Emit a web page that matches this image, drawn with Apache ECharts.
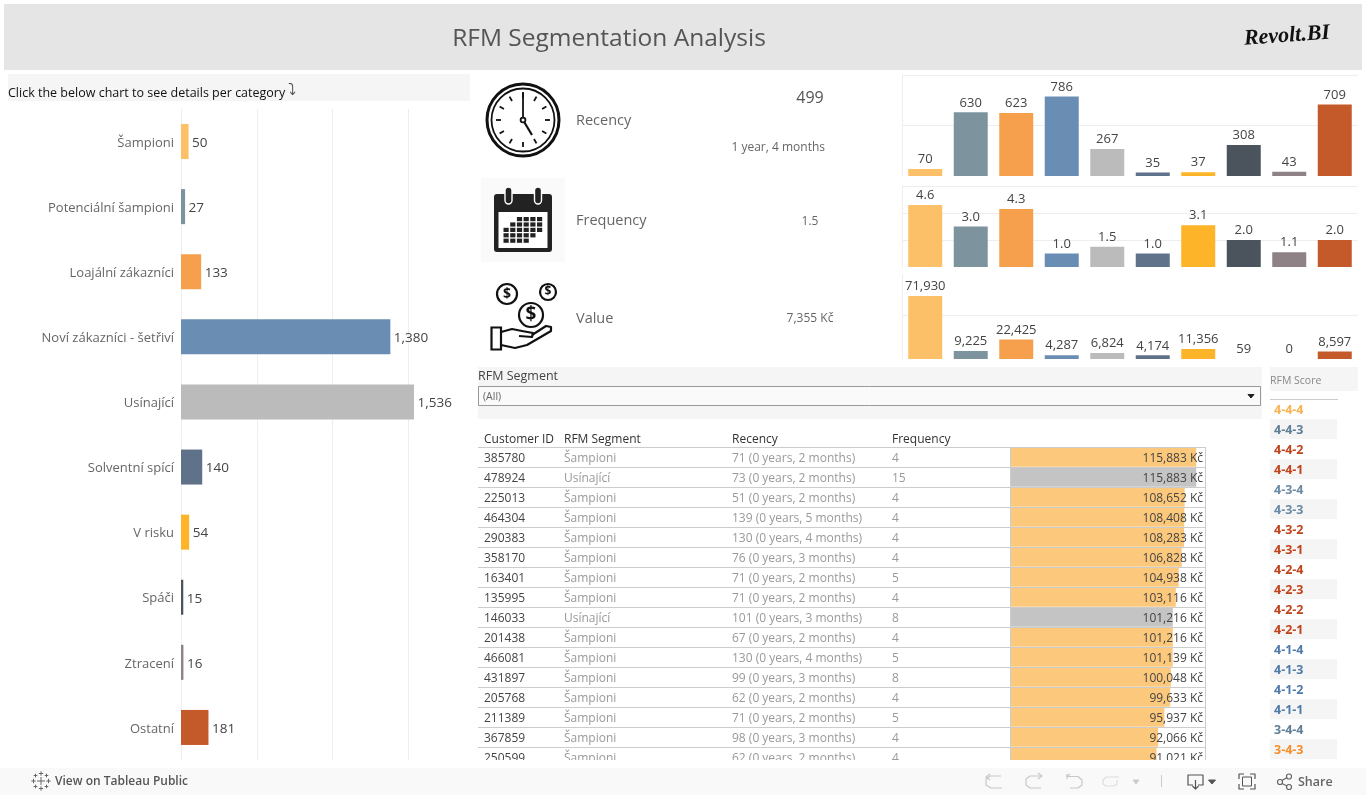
<!DOCTYPE html>
<html>
<head>
<meta charset="utf-8">
<title>RFM Segmentation Analysis</title>
<script src="https://cdn.jsdelivr.net/npm/echarts@6/dist/echarts.min.js"></script>
<style>
html, body { margin: 0; padding: 0; background: #fff; }
#main { width: 1366px; height: 795px; }
</style>
</head>
<body>
<div id="main"></div>
<script>
var FONT = '"Open Sans", "Noto Sans", sans-serif';

// segment summary
var segments = ['Šampioni', 'Potenciální šampioni', 'Loajální zákazníci', 'Noví zákazníci - šetřiví', 'Usínající', 'Solventní spící', 'V risku', 'Spáči', 'Ztracení', 'Ostatní'];
var customerCounts = [50, 27, 133, 1380, 1536, 140, 54, 15, 16, 181];
var recencyAvg = [70, 630, 623, 786, 267, 35, 37, 308, 43, 709];
var frequencyAvg = [4.6, 3.0, 4.3, 1.0, 1.5, 1.0, 3.1, 2.0, 1.1, 2.0];
var valueAvg = [71930, 9225, 22425, 4287, 6824, 4174, 11356, 59, 0, 8597];
var segmentColors = ['#fbc068', '#7d949f', '#f6a04e', '#6a8db3', '#bbbbbb', '#5f7289', '#fdb428', '#4b545c', '#8f8286', '#c4592a'];

// customer table
var customerIds = ['385780', '478924', '225013', '464304', '290383', '358170', '163401', '135995', '146033', '201438', '466081', '431897', '205768', '211389', '367859', '250599'];
var customerSegments = ['Šampioni', 'Usínající', 'Šampioni', 'Šampioni', 'Šampioni', 'Šampioni', 'Šampioni', 'Šampioni', 'Usínající', 'Šampioni', 'Šampioni', 'Šampioni', 'Šampioni', 'Šampioni', 'Šampioni', 'Šampioni'];
var customerRecency = ['71 (0 years, 2 months)', '73 (0 years, 2 months)', '51 (0 years, 2 months)', '139 (0 years, 5 months)', '130 (0 years, 4 months)', '76 (0 years, 3 months)', '71 (0 years, 2 months)', '71 (0 years, 2 months)', '101 (0 years, 3 months)', '67 (0 years, 2 months)', '130 (0 years, 4 months)', '99 (0 years, 3 months)', '62 (0 years, 2 months)', '71 (0 years, 2 months)', '98 (0 years, 3 months)', '62 (0 years, 2 months)'];
var customerFrequency = [4, 15, 4, 4, 4, 4, 5, 4, 8, 4, 5, 8, 4, 5, 4, 4];
var customerValue = [115883, 115883, 108652, 108408, 108283, 106828, 104938, 103116, 101216, 101216, 101139, 100048, 99633, 95937, 92066, 91021];

// rfm score list
var rfmScores = ['4-4-4', '4-4-3', '4-4-2', '4-4-1', '4-3-4', '4-3-3', '4-3-2', '4-3-1', '4-2-4', '4-2-3', '4-2-2', '4-2-1', '4-1-4', '4-1-3', '4-1-2', '4-1-1', '3-4-4', '3-4-3'];
var rfmScoreColors = ['#f9b24f', '#5f7f97', '#c0431a', '#c0431a', '#6a8aa5', '#6a8aa5', '#c0431a', '#c0431a', '#c0431a', '#c0431a', '#c0431a', '#c0431a', '#4f7bab', '#4f7bab', '#4f7bab', '#4f7bab', '#5f7f97', '#f58f2a'];

var fmt = function (v) { return v.toLocaleString('en-US'); };

var graphics = [];
function txt(text, x, y, size, fill, align, weight, family, z) {
    graphics.push({
        type: 'text', silent: true, z: z || 50,
        style: {
            text: text, x: x, y: y + 1, fill: fill,
            font: (weight || 'normal') + ' ' + size + 'px ' + (family || FONT),
            textAlign: align || 'left', textVerticalAlign: 'middle'
        }
    });
}
function box(x, y, w, h, fill, z, stroke, sw) {
    graphics.push({
        type: 'rect', silent: true, z: z || 0,
        shape: { x: x, y: y, width: w, height: h },
        style: { fill: fill || 'transparent', stroke: stroke || null, lineWidth: stroke ? (sw || 1) : 0 }
    });
}
function line(x1, y1, x2, y2, color, width, z) {
    graphics.push({
        type: 'line', silent: true, z: z || 40,
        shape: { x1: x1, y1: y1, x2: x2, y2: y2 },
        style: { stroke: color, lineWidth: width || 1 }
    });
}
function circle(cx, cy, r, fill, stroke, width, z) {
    graphics.push({
        type: 'circle', silent: true, z: z || 40,
        shape: { cx: cx, cy: cy, r: r },
        style: { fill: fill || 'transparent', stroke: stroke || null, lineWidth: width || 1 }
    });
}
function poly(points, color, width, fill, z) {
    graphics.push({
        type: fill ? 'polygon' : 'polyline', silent: true, z: z || 40,
        shape: { points: points },
        style: { stroke: color, lineWidth: width || 1, fill: fill || 'transparent', lineJoin: 'round' }
    });
}

// header
box(4, 4, 1358, 66, '#e5e5e5');
txt('RFM Segmentation Analysis', 609, 38, 24.5, '#555555', 'center');
graphics.push({
    type: 'text', silent: true, z: 50, x: 1287, y: 36, rotation: 0.07,
    style: { text: 'Revolt.BI', x: 0, y: 0, fill: '#111111', font: 'italic bold 22px "Liberation Serif", serif', textAlign: 'center', textVerticalAlign: 'middle' }
});

// left title
box(8, 74, 462, 27, '#f5f5f5');
txt('Click the below chart to see details per category', 8, 92, 12.5, '#111111');
txt('⤵', 292, 90, 16, '#444444', 'center', 'normal', '"DejaVu Sans", sans-serif');

// metrics
txt('Recency', 576, 120, 14.5, '#666666');
txt('499', 810, 97, 16, '#555555', 'center');
txt('1 year, 4 months', 825, 147, 12, '#666666', 'right');
txt('Frequency', 576, 220, 14.5, '#666666');
txt('1.5', 810, 221, 12, '#666666', 'center');
txt('Value', 576, 318, 14.5, '#666666');
txt('7,355 Kč', 810, 318, 12, '#666666', 'center');

// clock icon
circle(523, 120, 36, '#fff', '#111', 3);
circle(523, 120, 31.5, '#fff', '#111', 1.8);
for (var h = 0; h < 12; h++) {
    var a = h * Math.PI / 6;
    line(523 + 27 * Math.sin(a), 120 - 27 * Math.cos(a), 523 + 22 * Math.sin(a), 120 - 22 * Math.cos(a), '#111', 1.8);
}
line(523, 120, 523, 92, '#111', 1.8);
line(523, 120, 532, 135, '#111', 2.2);
circle(523, 120, 2.4, '#fff', '#111', 1.8);

// calendar icon
box(481, 178, 84, 84, '#fafafa');
graphics.push({ type: 'rect', silent: true, z: 40, shape: { x: 494, y: 194, width: 58, height: 58, r: 3 }, style: { fill: '#222222' } });
box(498.5, 212, 49, 36, '#ffffff', 41);
[508.5, 538].forEach(function (x) {
    graphics.push({ type: 'rect', silent: true, z: 41, shape: { x: x - 3.5, y: 187, width: 7, height: 17, r: 3.5 }, style: { fill: '#222222', stroke: '#ffffff', lineWidth: 1.4 } });
});
var calendarRows = [[2, 5], [1, 5], [0, 5], [0, 4], [0, 3]];
calendarRows.forEach(function (row, r) {
    for (var c = row[0]; c <= row[1]; c++) {
        box(503.5 + c * 6.7, 217 + r * 5.4, 5.2, 4.2, '#222222', 42);
    }
});

// money icon
circle(507, 294, 10, '#fff', '#111', 2.2);
circle(548, 292, 8, '#fff', '#111', 2.2);
circle(531, 315, 12, '#fff', '#111', 2.2);
txt('$', 507, 293, 14, '#111', 'center', 'bold');
txt('$', 548, 291, 12, '#111', 'center', 'bold');
txt('$', 531, 314, 19, '#111', 'center', 'bold');
box(491.5, 327.5, 9.5, 22, '#fff', 40, '#111', 2.2);
poly([[501, 332], [512, 329], [522, 331], [533, 333], [532, 337], [519, 336]], '#111', 2.2);
poly([[532, 335], [546, 326], [551, 327], [551, 331], [527, 345], [515, 348], [501, 345]], '#111', 2.2);

// filter panel
box(478, 367, 784, 52, '#f5f5f5');
txt('RFM Segment', 478, 375.5, 12.5, '#444444');
box(478.5, 386.5, 782, 19, '#fafafa', 1, '#999999');
txt('(All)', 483, 396, 10.5, '#666666');
poly([[1248, 394.5], [1254, 394.5], [1251, 398]], '#222', 1, '#222');

// table
var tableTop = 447, rowHeight = 20, tableBottom = 760;
txt('Customer ID', 484, 439, 12, '#333333');
txt('RFM Segment', 564, 439, 12, '#333333');
txt('Recency', 732, 439, 12, '#333333');
txt('Frequency', 892, 439, 12, '#333333');
customerIds.forEach(function (id, i) {
    var y = tableTop + i * rowHeight + 11;
    if (tableTop + i * rowHeight < tableBottom) line(478, tableTop + i * rowHeight + 0.5, 1206, tableTop + i * rowHeight + 0.5, '#cccccc', 1, 30);
    txt(id, 484, y, 12, '#444444');
    txt(customerSegments[i], 564, y, 12, '#999999');
    txt(customerRecency[i], 732, y, 12, '#999999');
    txt(String(customerFrequency[i]), 892, y, 12, '#999999');
    txt(fmt(customerValue[i]) + ' Kč', 1203, y, 12, '#444444', 'right');
});
line(1010.5, tableTop, 1010.5, tableBottom, '#cccccc', 1, 30);
line(1205.5, tableTop, 1205.5, tableBottom, '#cccccc', 1, 30);
box(470, 760, 760, 8, '#ffffff', 60);

// rfm score panel
box(1270, 367, 88, 24, '#f5f5f5');
txt('RFM Score', 1270, 380, 10.5, '#888888');
line(1270, 399.5, 1338, 399.5, '#cccccc', 1);
rfmScores.forEach(function (s, i) {
    if (i % 2 === 1) box(1270, 399 + i * 20.02, 67, 20, '#f5f5f5');
    txt(s, 1274, 409.3 + i * 20.02, 12.5, rfmScoreColors[i], 'left', 'bold');
});

// footer
box(0, 768, 1366, 27, '#f9f9f9', 60);
[[41, 781, 4], [33.5, 781, 2.2], [48.5, 781, 2.2], [41, 773.5, 2.2], [41, 788.5, 2.2], [35.5, 775.5, 1.8], [46.5, 775.5, 1.8], [35.5, 786.5, 1.8], [46.5, 786.5, 1.8]].forEach(function (p) {
    line(p[0] - p[2], p[1], p[0] + p[2], p[1], '#666666', 1, 61);
    line(p[0], p[1] - p[2], p[0], p[1] + p[2], '#666666', 1, 61);
});
txt('View on Tableau Public', 55, 780.5, 12, '#555555', 'left', '600', FONT, 61);
function footPoly(points, color) { poly(points, color, 1.2, null, 61); }
// undo
footPoly([[1002, 788], [991, 788], [986, 785], [986, 779], [990, 776], [1001, 776]], '#c8c8c8');
footPoly([[990, 774], [986, 777], [990, 780]], '#c8c8c8');
// redo
footPoly([[1026, 779], [1030, 776], [1041, 776]], '#c8c8c8');
footPoly([[1026, 779], [1026, 785], [1030, 788], [1041, 788]], '#c8c8c8');
footPoly([[1038, 773], [1042, 776], [1038, 779]], '#c8c8c8');
// revert
footPoly([[1067, 774], [1067, 779]], '#c8c8c8');
footPoly([[1070, 774], [1067, 776.5], [1078, 776.5], [1082, 780], [1082, 785], [1078, 788], [1070, 788]], '#c8c8c8');
// refresh
footPoly([[1119, 777], [1106, 777], [1103, 780], [1103, 784], [1106, 786], [1114, 786], [1117, 784], [1117, 780]], '#dddddd');
poly([[1133, 780], [1139, 780], [1136, 784]], '#cccccc', 1, '#cccccc', 61);
line(1161.5, 775, 1161.5, 787, '#cccccc', 1, 61);
// download / device
footPoly([[1193, 785], [1188, 785], [1188, 775], [1203, 775], [1203, 785], [1198, 785]], '#555555');
footPoly([[1195.5, 780], [1195.5, 789]], '#555555');
footPoly([[1192.5, 786], [1195.5, 789], [1198.5, 786]], '#555555');
poly([[1208.5, 780], [1215.5, 780], [1212, 784]], '#555555', 1, '#555555', 61);
// fullscreen
footPoly([[1239, 779], [1239, 774], [1244, 774]], '#555555');
footPoly([[1250, 774], [1255, 774], [1255, 779]], '#555555');
footPoly([[1255, 784], [1255, 789], [1250, 789]], '#555555');
footPoly([[1244, 789], [1239, 789], [1239, 784]], '#555555');
box(1242.5, 777, 9, 9, 'transparent', 61, '#555555');
// share
circle(1280, 782, 2.5, 'transparent', '#666666', 1.2, 61);
circle(1289, 776.5, 2.5, 'transparent', '#666666', 1.2, 61);
circle(1289, 787, 2.5, 'transparent', '#666666', 1.2, 61);
footPoly([[1287, 777.5], [1282, 780.5]], '#666666');
footPoly([[1287, 786], [1282, 783.5]], '#666666');
txt('Share', 1298, 781, 12.5, '#666666', 'left', '600', FONT, 61);

var GRID_LINE = '#eeeeee';

function miniGrid(top, height) {
    return { left: 902.5, width: 455, top: top, height: height };
}
function miniXAxis(gridIndex) {
    return { type: 'category', gridIndex: gridIndex, data: segments, show: false };
}
function miniYAxis(gridIndex, max, interval) {
    return {
        type: 'value', gridIndex: gridIndex, min: 0, max: max, interval: interval,
        axisLabel: { show: false }, axisTick: { show: false },
        axisLine: { show: true, lineStyle: { color: GRID_LINE } },
        splitLine: { lineStyle: { color: GRID_LINE }, showMinLine: false, showMaxLine: max % interval === 0 }
    };
}
function miniSeries(gridIndex, values, formatter) {
    return {
        type: 'bar', xAxisIndex: gridIndex, yAxisIndex: gridIndex, barWidth: 34, silent: true,
        data: values.map(function (v, i) { return { value: v, itemStyle: { color: segmentColors[i] } }; }),
        label: {
            show: true, position: 'top', distance: 3, color: '#444444', fontSize: 13, fontFamily: FONT,
            formatter: function (p) { return formatter(p.value); }
        }
    };
}

var chart = echarts.init(document.getElementById('main'), null, { renderer: 'canvas' });
chart.setOption({
    animation: false,
    backgroundColor: '#ffffff',
    textStyle: { fontFamily: FONT },
    graphic: { elements: graphics },
    grid: [
        { left: 181, width: 289, top: 109, height: 651 },
        miniGrid(75, 101),
        miniGrid(186, 81),
        miniGrid(275, 84),
        { left: 1011, width: 195, top: 447, height: 320 }
    ],
    xAxis: [
        {
            type: 'value', gridIndex: 0, min: 0, max: 1905, interval: 500,
            axisLabel: { show: false }, axisTick: { show: false }, axisLine: { show: false },
            splitLine: { lineStyle: { color: GRID_LINE }, showMaxLine: false }
        },
        miniXAxis(1), miniXAxis(2), miniXAxis(3),
        { type: 'value', gridIndex: 4, min: 0, max: 122000, show: false }
    ],
    yAxis: [
        {
            type: 'category', gridIndex: 0, data: segments, inverse: true,
            axisLine: { show: false }, axisTick: { show: false },
            axisLabel: {
                margin: 7,
                formatter: function (v) { return '{name|' + v + '}'; },
                rich: { name: { color: '#666666', fontSize: 13, fontFamily: FONT, padding: [3, 0, 0, 0] } }
            }
        },
        miniYAxis(1, 1000, 500), miniYAxis(2, 6, 2), miniYAxis(3, 96000, 50000),
        { type: 'category', gridIndex: 4, data: customerIds, inverse: true, show: false }
    ],
    series: [
        {
            type: 'bar', xAxisIndex: 0, yAxisIndex: 0, barWidth: 35, silent: true,
            data: customerCounts.map(function (v, i) { return { value: v, itemStyle: { color: segmentColors[i] } }; }),
            label: {
                show: true, position: 'right', distance: 3.5, offset: [0, 1.5], color: '#444444', fontSize: 13.5, fontFamily: FONT,
                formatter: function (p) { return fmt(p.value); }
            }
        },
        miniSeries(1, recencyAvg, fmt),
        miniSeries(2, frequencyAvg, function (v) { return v.toFixed(1); }),
        miniSeries(3, valueAvg, fmt),
        {
            type: 'bar', xAxisIndex: 4, yAxisIndex: 4, barWidth: 19.5, silent: true, z: 1,
            data: customerValue.map(function (v, i) {
                return { value: v, itemStyle: { color: customerSegments[i] === 'Usínající' ? '#c4c4c4' : '#fcc97c' } };
            })
        }
    ]
});
</script>
</body>
</html>
